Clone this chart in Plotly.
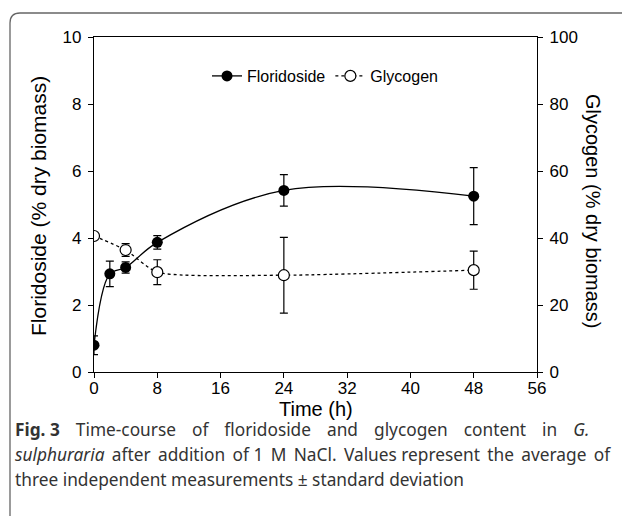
import plotly.graph_objects as go

time_flor = [0, 2, 4, 8, 24, 48]
floridoside = [0.80, 2.93, 3.12, 3.87, 5.42, 5.25]
floridoside_sd = [0.28, 0.38, 0.17, 0.20, 0.47, 0.85]

time_gly = [0, 4, 8, 24, 48]
glycogen = [40.6, 36.4, 29.8, 28.9, 30.4]
glycogen_sd = [0.5, 1.9, 3.7, 11.3, 5.7]

x_ticks = [0, 8, 16, 24, 32, 40, 48, 56]
y_ticks = [0, 2, 4, 6, 8, 10]
y2_ticks = [0, 20, 40, 60, 80, 100]

# caption text, line by line (word lists; lines 1-2 are justified in the original)
caption_line1_head = "<b>Fig. 3</b>"
caption_line1_words = ["Time-course", "of", "floridoside", "and", "glycogen", "content", "in", "<i>G.</i>"]
caption_line2_words = ["<i>sulphuraria</i>", "after", "addition", "of", "1", "M", "NaCl.", "Values",
                       "represent", "the", "average", "of"]
caption_line3 = "three independent measurements \u00b1 standard deviation"

W, H = 622, 518
L, R, T, B = 94, 85, 37, 146
pw, ph = W - L - R, H - T - B

def px(x):
    return (x - L) / pw

def py(y):
    return (H - B - y) / ph

AX = "Arial, Liberation Sans, sans-serif"

fig = go.Figure()
fig.add_trace(go.Scatter(
    x=time_flor, y=floridoside, name="Floridoside", mode="lines+markers",
    line=dict(color="black", width=1.3, shape="spline", smoothing=1.0),
    marker=dict(color="black", size=11, symbol="circle"),
    error_y=dict(type="data", array=floridoside_sd, color="black", thickness=1.2, width=4),
))
fig.add_trace(go.Scatter(
    x=time_gly, y=glycogen, name="Glycogen", mode="lines+markers", yaxis="y2",
    line=dict(color="black", width=1.3, dash="3px,3px", shape="spline", smoothing=0.6),
    marker=dict(color="white", size=11, symbol="circle", line=dict(color="black", width=1.2)),
    error_y=dict(type="data", array=glycogen_sd, color="black", thickness=1.2, width=4),
))

axis_common = dict(showgrid=False, zeroline=False, showline=True, linecolor="black",
                   linewidth=1.3, ticks="outside", ticklen=5, tickcolor="black",
                   tickfont=dict(family=AX, size=17, color="black"))

fig.update_layout(
    width=W, height=H,
    margin=dict(l=L, r=R, t=T, b=B, autoexpand=False),
    paper_bgcolor="white", plot_bgcolor="white",
    showlegend=True,
    legend=dict(orientation="h", x=px(325), y=py(76), xanchor="center", yanchor="middle",
                font=dict(family=AX, size=16, color="black"), bgcolor="rgba(0,0,0,0)",
                itemwidth=30, tracegroupgap=0),
    xaxis=dict(range=[0, 56], tickvals=x_ticks, mirror=True, ticklabelstandoff=-5, **axis_common),
    yaxis=dict(range=[0, 10], tickvals=y_ticks, ticklabelstandoff=3, **axis_common),
    yaxis2=dict(range=[0, 100], tickvals=y2_ticks, overlaying="y", side="right",
                ticklabelstandoff=3, **axis_common),
)

ann = []
ann.append(dict(text="Floridoside (% dry biomass)", textangle=-90, x=px(38), y=py(206),
                xref="paper", yref="paper", xanchor="center", yanchor="middle",
                showarrow=False, font=dict(family=AX, size=21, color="black")))
ann.append(dict(text="Glycogen (% dry biomass)", textangle=90, x=px(593), y=py(211),
                xref="paper", yref="paper", xanchor="center", yanchor="middle",
                showarrow=False, font=dict(family=AX, size=20, color="black")))
ann.append(dict(text="Time (h)", x=px(316), y=py(409), xref="paper", yref="paper",
                xanchor="center", yanchor="middle",
                showarrow=False, font=dict(family=AX, size=20, color="black")))

wide_gap = " \u2002\u2009"
line1 = caption_line1_head + wide_gap + wide_gap.join(caption_line1_words)
parts = []
for i, w in enumerate(caption_line2_words):
    parts.append(w)
    if i < len(caption_line2_words) - 1:
        parts.append(" \u2009" if i % 4 != 3 else " ")
line2 = "".join(parts)
caption_lines = [line1, line2, caption_line3]
for line, yc in zip(caption_lines, [429, 454, 479]):
    ann.append(dict(text=line, x=px(13), y=py(yc), xref="paper", yref="paper",
                    xanchor="left", yanchor="middle", showarrow=False, align="left",
                    font=dict(family="Noto Sans, sans-serif", size=17.3, color="#333333")))
fig.update_layout(annotations=ann)

# rounded frame
lx, ty, rx, by = px(10), py(13), px(640), py(516)
dx, dy = 10 / pw, 10 / ph
path = f"M {lx},{by} L {lx},{ty - dy} Q {lx},{ty} {lx + dx},{ty} L {rx},{ty}"
fig.add_shape(type="path", path=path, xref="paper", yref="paper",
              line=dict(color="#666666", width=1.3))

fig.write_html("out.html")
